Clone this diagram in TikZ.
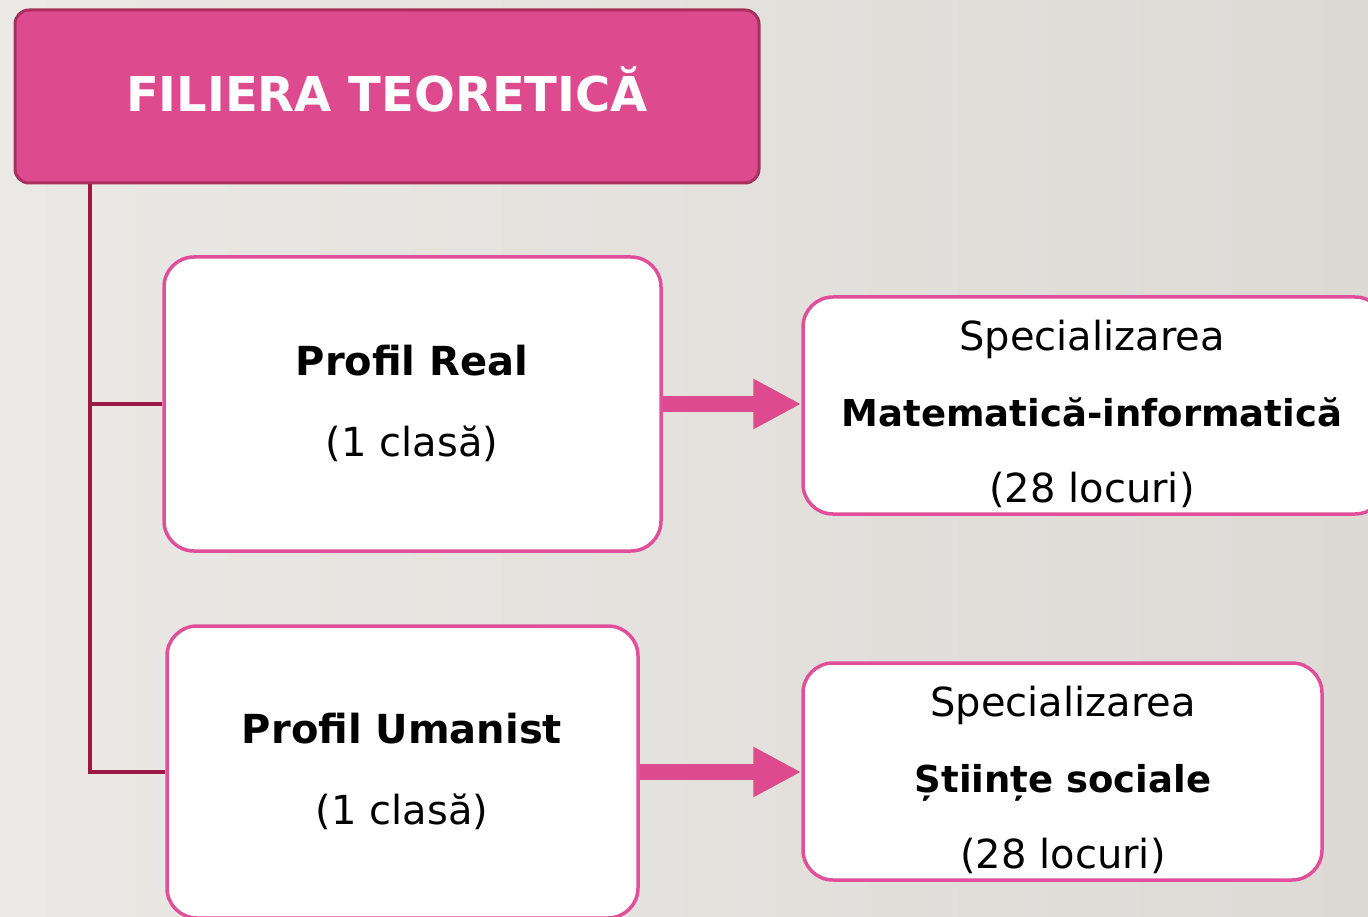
\documentclass[tikz,border=0pt]{standalone}
\usepackage{fontspec}
\setmainfont{DejaVu Sans}
\usetikzlibrary{arrows.meta}
\definecolor{bgL}{HTML}{EBE9E5}
\definecolor{bgR}{HTML}{DDDAD6}
\definecolor{titlefill}{HTML}{DE4A8E}
\definecolor{titleedge}{HTML}{A8305F}
\definecolor{trunk}{HTML}{9A1A45}
\definecolor{boxedge}{HTML}{E0509A}
\definecolor{arrowpink}{HTML}{DE4A8E}
\newcommand{\regtxt}{\fontsize{40}{76}\selectfont}
\newcommand{\boldtxt}{\fontsize{37}{76}\selectfont\bfseries}
\tikzset{
  titlebox/.style={draw=titleedge, fill=titlefill, line width=3pt, rounded corners=14pt, inner sep=0pt},
  whitebox/.style={draw=boxedge, fill=white, line width=3.5pt, rounded corners=30pt, inner sep=0pt},
  trunkline/.style={draw=trunk, line width=3.5pt},
  bigarrow/.style={draw=arrowpink, line width=16pt, -{Triangle[length=48pt,width=47pt]}},
  boxtext/.style={align=center, font=\fontsize{37}{76}\selectfont},
  proftext/.style={align=center, font=\fontsize{40}{81}\selectfont},
}
\begin{document}
\begin{tikzpicture}[x=1pt,y=-1pt]
\shade[left color=bgL, right color=bgR] (0,0) rectangle (1368,917);
\useasboundingbox (0,0) rectangle (1368,917);
\clip (0,0) rectangle (1368,917);

\node[titlebox, minimum width=744pt, minimum height=173pt] (title) at (387,96.5) {};
\node[text=white, font=\fontsize{48}{50}\selectfont\bfseries] (titletxt) at (387,89) {FILIERA TEORETICĂ};

\node[whitebox, minimum width=497pt, minimum height=294pt] (real) at (412.5,404) {};
\node[proftext] (realtxt) at (412,403) {\textbf{Profil Real}\\(1 clasă)};

\node[whitebox, minimum width=471pt, minimum height=292pt] (uman) at (402.5,772) {};
\node[proftext] (umantxt) at (402,771) {\textbf{Profil Umanist}\\(1 clasă)};

\node[whitebox, minimum width=582pt, minimum height=217pt] (spec1) at (1094,405.5) {};
\node[boxtext] (spec1txt) at (1092,414) {{\regtxt Specializarea}\\{\boldtxt Matematică-informatică}\\{\regtxt (28 locuri)}};

\node[whitebox, minimum width=519pt, minimum height=217pt] (spec2) at (1062.5,771.5) {};
\node[boxtext] (spec2txt) at (1063,780) {{\regtxt Specializarea}\\{\boldtxt Științe sociale}\\{\regtxt (28 locuri)}};

\coordinate (top) at ([xshift=-297pt]title.south);
\draw[trunkline] (top) |- (uman.west);
\draw[trunkline] (top |- real.west) -- (real.west);

\draw[bigarrow] (real.east) -- (real.east -| spec1.west);
\draw[bigarrow] (uman.east) -- (uman.east -| spec2.west);
\end{tikzpicture}
\end{document}
